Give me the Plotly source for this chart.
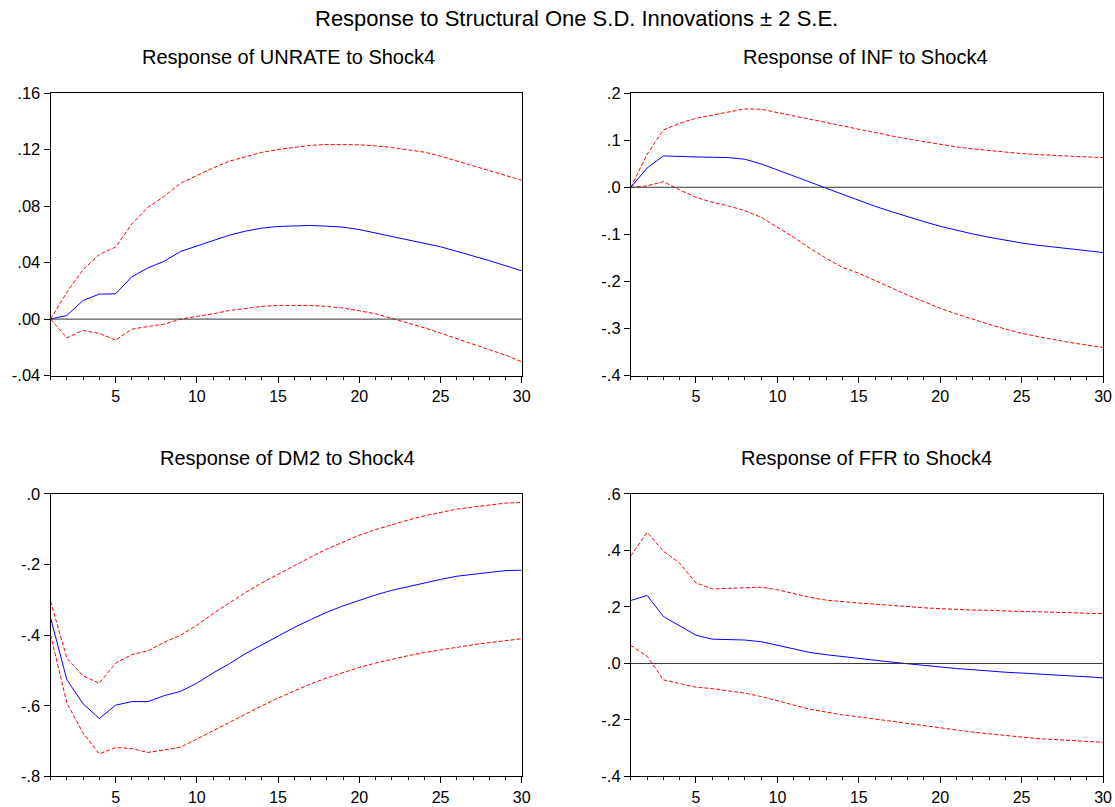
import plotly.graph_objects as go

periods = list(range(1, 31))

# UNRATE
unrate_resp = [0.0, 0.0026, 0.0132, 0.0177, 0.0179, 0.030, 0.0363, 0.041, 0.0479, 0.0517,
               0.0557, 0.0594, 0.0623, 0.0644, 0.0656, 0.066, 0.0663, 0.0658, 0.0651, 0.0634,
               0.061, 0.0585, 0.056, 0.0537, 0.0512, 0.048, 0.0448, 0.0414, 0.0378, 0.0342]
unrate_up = [0.0, 0.019, 0.0351, 0.0458, 0.051, 0.0674, 0.0792, 0.087, 0.0962, 0.1016,
             0.107, 0.1118, 0.1151, 0.118, 0.1201, 0.1217, 0.123, 0.1236, 0.1236, 0.1234,
             0.1226, 0.1215, 0.1198, 0.1182, 0.1154, 0.112, 0.1087, 0.1053, 0.1018, 0.0983]
unrate_lo = [0.0, -0.0132, -0.008, -0.0101, -0.0149, -0.0071, -0.0052, -0.0035, 0.0, 0.0017,
             0.0038, 0.0061, 0.0078, 0.009, 0.0097, 0.0099, 0.0097, 0.009, 0.0078, 0.0059,
             0.0038, 0.0005, -0.0026, -0.0061, -0.0099, -0.0137, -0.0177, -0.0215, -0.0255, -0.0302]

# INF
inf_resp = [0.0, 0.041, 0.0666, 0.065, 0.0644, 0.0637, 0.063, 0.0595, 0.0496, 0.0368,
            0.0234, 0.0099, -0.002, -0.0149, -0.0283, -0.0404, -0.0517, -0.063, -0.073, -0.0829,
            -0.0914, -0.0992, -0.1062, -0.1126, -0.1183, -0.1232, -0.1275, -0.131, -0.1346, -0.1388]
inf_up = [0.0, 0.07, 0.1218, 0.136, 0.1466, 0.153, 0.16, 0.1664, 0.1657, 0.1586,
          0.1508, 0.1437, 0.1374, 0.1303, 0.1218, 0.1154, 0.1091, 0.1027, 0.097, 0.0907,
          0.0857, 0.0815, 0.0779, 0.0744, 0.0715, 0.0694, 0.0673, 0.0659, 0.0644, 0.063]
inf_lo = [0.0, 0.003, 0.012, -0.0057, -0.0212, -0.0319, -0.0397, -0.0496, -0.0637, -0.085,
          -0.106, -0.1296, -0.151, -0.17, -0.1827, -0.198, -0.214, -0.229, -0.243, -0.257,
          -0.269, -0.2805, -0.291, -0.301, -0.31, -0.317, -0.324, -0.330, -0.335, -0.34]

# DM2
dm2_resp = [-0.351, -0.526, -0.594, -0.636, -0.598, -0.588, -0.588, -0.571, -0.559, -0.536,
            -0.507, -0.481, -0.452, -0.427, -0.401, -0.378, -0.356, -0.335, -0.317, -0.301,
            -0.286, -0.273, -0.262, -0.251, -0.242, -0.233, -0.227, -0.221, -0.217, -0.216]
dm2_up = [-0.304, -0.465, -0.515, -0.536, -0.479, -0.455, -0.444, -0.42, -0.40, -0.372,
          -0.339, -0.309, -0.279, -0.252, -0.227, -0.202, -0.179, -0.156, -0.136, -0.117,
          -0.101, -0.087, -0.074, -0.062, -0.052, -0.043, -0.037, -0.031, -0.026, -0.024]
dm2_lo = [-0.399, -0.592, -0.677, -0.736, -0.718, -0.721, -0.732, -0.724, -0.717, -0.694,
          -0.67, -0.646, -0.622, -0.60, -0.578, -0.557, -0.538, -0.521, -0.505, -0.491,
          -0.479, -0.468, -0.458, -0.449, -0.441, -0.434, -0.427, -0.421, -0.415, -0.41]

# FFR
ffr_resp = [0.223, 0.241, 0.166, 0.133, 0.1, 0.086, 0.085, 0.083, 0.077, 0.064,
            0.051, 0.039, 0.031, 0.024, 0.017, 0.011, 0.005, -0.001, -0.007, -0.013,
            -0.018, -0.022, -0.027, -0.031, -0.034, -0.038, -0.041, -0.044, -0.047, -0.051]
ffr_up = [0.381, 0.464, 0.397, 0.355, 0.285, 0.264, 0.266, 0.269, 0.27, 0.261,
          0.247, 0.234, 0.224, 0.218, 0.214, 0.21, 0.205, 0.201, 0.197, 0.194,
          0.191, 0.189, 0.188, 0.185, 0.184, 0.183, 0.181, 0.178, 0.177, 0.176]
ffr_lo = [0.064, 0.025, -0.058, -0.072, -0.084, -0.089, -0.096, -0.105, -0.117, -0.132,
          -0.148, -0.162, -0.172, -0.182, -0.189, -0.197, -0.205, -0.213, -0.221, -0.229,
          -0.236, -0.243, -0.249, -0.255, -0.261, -0.266, -0.269, -0.273, -0.276, -0.279]

titles = ["Response of UNRATE to Shock4", "Response of INF to Shock4",
          "Response of DM2 to Shock4", "Response of FFR to Shock4"]

ytick_vals = [
    [-0.04, 0.0, 0.04, 0.08, 0.12, 0.16],
    [-0.4, -0.3, -0.2, -0.1, 0.0, 0.1, 0.2],
    [-0.8, -0.6, -0.4, -0.2, 0.0],
    [-0.4, -0.2, 0.0, 0.2, 0.4, 0.6],
]
ytick_text = [
    ["-.04", ".00", ".04", ".08", ".12", ".16"],
    ["-.4", "-.3", "-.2", "-.1", ".0", ".1", ".2"],
    ["-.8", "-.6", "-.4", "-.2", ".0"],
    ["-.4", "-.2", ".0", ".2", ".4", ".6"],
]
y_ranges = [[-0.04, 0.16], [-0.4, 0.2], [-0.8, 0.0], [-0.4, 0.6]]
xtick_vals = [5, 10, 15, 20, 25, 30]

series = [
    (unrate_resp, unrate_up, unrate_lo),
    (inf_resp, inf_up, inf_lo),
    (dm2_resp, dm2_up, dm2_lo),
    (ffr_resp, ffr_up, ffr_lo),
]

W, H = 1115, 807
FONT = "Liberation Sans, Arial, sans-serif"

# panel pixel boxes (left, right, top, bottom)
boxes = [(51, 526, 86, 375), (636, 1112, 86, 375),
         (51, 526, 496, 785), (636, 1112, 496, 785)]
title_pos = [(291, 49), (873, 49), (290, 459), (874, 459)]

fig = go.Figure()
layout = dict(
    width=W, height=H, autosize=False,
    margin=dict(l=0, r=0, t=0, b=0, pad=0),
    paper_bgcolor="white", plot_bgcolor="white",
    showlegend=False,
    font=dict(family=FONT, size=16, color="black"),
    annotations=[], shapes=[],
)

for i, (resp, up, lo) in enumerate(series):
    k = "" if i == 0 else str(i + 1)
    xa, ya = "x" + k, "y" + k
    for vals, col, dash in [(up, "#FF0000", "4px,2px"), (lo, "#FF0000", "4px,2px"),
                            (resp, "#0000FF", "solid")]:
        fig.add_trace(go.Scatter(x=periods, y=vals, mode="lines", xaxis=xa, yaxis=ya,
                                 line=dict(color=col, width=1, dash=dash),
                                 hoverinfo="skip"))
    l, r, t, b = boxes[i]
    layout["xaxis" + k] = dict(
        domain=[l / W, r / W], anchor=ya, range=[1, 30],
        tickvals=xtick_vals, ticks="outside", ticklen=6, tickwidth=1, tickcolor="black",
        minor=dict(dtick=1, tick0=1, ticks="outside", ticklen=3, tickwidth=1, tickcolor="black", showgrid=False),
        showline=True, linecolor="black", linewidth=1, mirror=True,
        showgrid=False, zeroline=False, tickfont=dict(size=16),
    )
    layout["yaxis" + k] = dict(
        domain=[1 - b / H, 1 - t / H], anchor=xa, range=y_ranges[i],
        tickvals=ytick_vals[i], ticktext=ytick_text[i],
        ticks="outside", ticklen=6, tickwidth=1, tickcolor="black",
        showline=True, linecolor="black", linewidth=1, mirror=True,
        showgrid=False, zeroline=False, tickfont=dict(size=16.5),
    )
    if y_ranges[i][0] < 0 < y_ranges[i][1]:
        layout["shapes"].append(dict(type="line", xref=xa + " domain", yref=ya,
                                     x0=0, x1=1, y0=0, y1=0,
                                     line=dict(color="#333333", width=1)))
    tx, ty = title_pos[i]
    layout["annotations"].append(dict(text=titles[i], xref="paper", yref="paper",
                                      x=tx / W, y=1 - ty / H, xanchor="center", yanchor="middle",
                                      showarrow=False, font=dict(size=20)))

layout["annotations"].append(dict(text="Response to Structural One S.D. Innovations \u00b1 2 S.E.",
                                  xref="paper", yref="paper", x=581 / W, y=1 - 10 / H,
                                  xanchor="center", yanchor="middle", showarrow=False,
                                  font=dict(size=22)))

fig.update_layout(**layout)
fig.write_html("out.html")
